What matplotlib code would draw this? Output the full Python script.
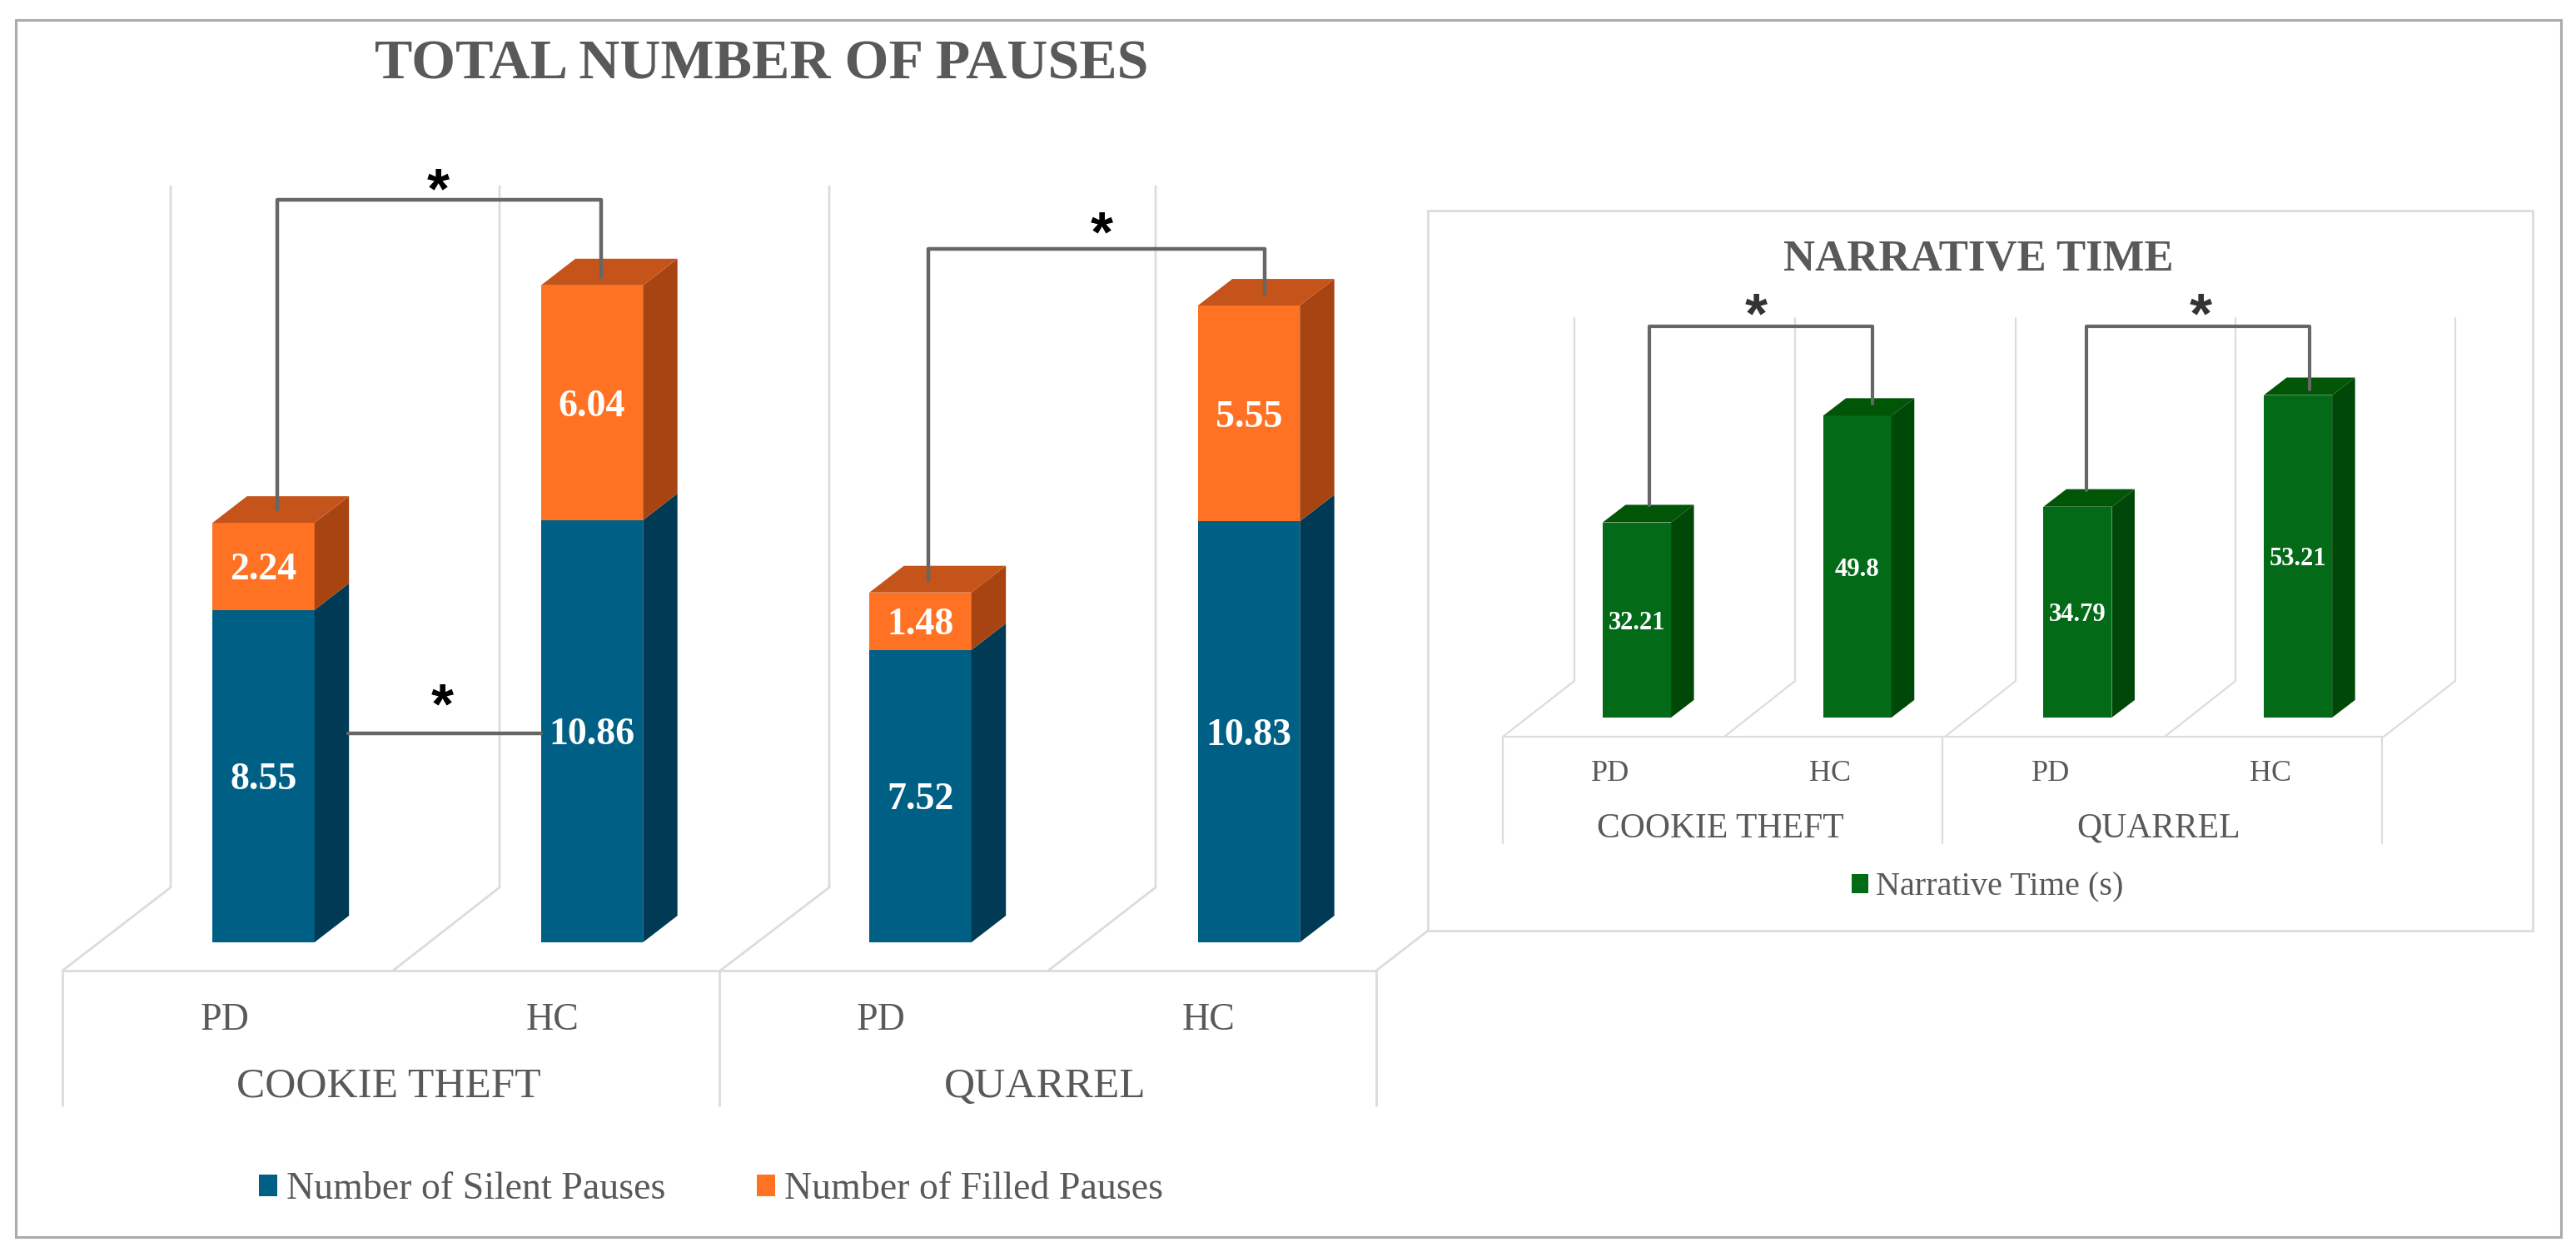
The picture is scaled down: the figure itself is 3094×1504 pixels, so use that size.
import matplotlib
matplotlib.use("Agg")
import matplotlib.pyplot as plt
from matplotlib.patches import Rectangle

W, H = 3094, 1504
plt.rcParams['font.family'] = ['Liberation Serif', 'DejaVu Serif']

groups = ["PD", "HC", "PD", "HC"]
stories = ["COOKIE THEFT", "QUARREL"]

silent = [8.55, 10.86, 7.52, 10.83]
filled = [2.24, 6.04, 1.48, 5.55]
narrative = [32.21, 49.8, 34.79, 53.21]

BLUE, BLUE_SIDE = "#005F85", "#003A54"
ORANGE, ORANGE_SIDE, ORANGE_TOP = "#FF7224", "#A84412", "#C5541A"
GREEN, GREEN_SIDE, GREEN_TOP = "#036A17", "#004808", "#015507"
GRID = "#DCDCDC"
TEXT = "#595959"
BRACKET = "#666666"

fig = plt.figure(figsize=(W / 100, H / 100), dpi=100, facecolor="white")

# pixel axes for the frames, walls and floors
back = fig.add_axes([0, 0, 1, 1], zorder=0)
back.set_xlim(0, W)
back.set_ylim(H, 0)
back.axis("off")

# second pixel axes on top, for the significance brackets
front = fig.add_axes([0, 0, 1, 1], zorder=5)
front.set_xlim(0, W)
front.set_ylim(H, 0)
front.axis("off")
front.patch.set_alpha(0)


def panel(x0, dx, y0, dy, x_px, top_px):
    # axes where bar i is centred at x0 + i*dx px and value 0 sits at y0 px
    l, r = x_px
    ax = fig.add_axes([l / W, 1 - y0 / H, (r - l) / W, (y0 - top_px) / H], zorder=2)
    ax.set_xlim((l - x0) / dx, (r - x0) / dx)
    ax.set_ylim(0, (y0 - top_px) / dy)
    ax.axis("off")
    return ax


def box_3d(ax, x, bottom, height, width, ddx, ddy, side, top=None):
    xr = x + width / 2
    xl = x - width / 2
    y0, y1 = bottom, bottom + height
    ax.fill([xr, xr + ddx, xr + ddx, xr], [y0, y0 + ddy, y1 + ddy, y1], color=side, lw=0)
    if top:
        ax.fill([xl, xr, xr + ddx, xl + ddx], [y1, y1, y1 + ddy, y1 + ddy], color=top, lw=0)


def line(a, xs, ys, color=GRID, lw=2.0):
    a.plot(xs, ys, color=color, lw=lw, solid_capstyle="round", solid_joinstyle="round")


# outer frame and inset frame
back.add_patch(Rectangle((19, 24), 3057, 1462, fill=False, ec="#ABABAB", lw=2.2))
back.add_patch(Rectangle((1715, 253), 1327, 865, fill=False, ec=GRID, lw=2.0))

# left chart: walls and floor
for top_x, floor_x in zip([205, 600, 996, 1388], [75, 472, 865, 1259]):
    line(back, [top_x, top_x, floor_x], [224, 1066, 1166])
line(back, [1715, 1653], [1118, 1166])
line(back, [75, 1653], [1166, 1166])
for x in [75, 864, 1653]:
    line(back, [x, x], [1166, 1328])

# inset chart: walls and floor
for top_x, floor_x in zip([1891, 2156, 2421, 2685, 2949], [1805, 2071, 2336, 2600, 2863]):
    line(back, [top_x, top_x, floor_x], [382, 818, 885], lw=1.6)
line(back, [1805, 2861], [885, 885], lw=1.6)
for x in [1805, 2333, 2861]:
    line(back, [x, x], [885, 1013], lw=1.6)

# left chart bars
ax = panel(316.5, 394.5, 1132, 46.7, (60, 1660), 224)
xs = list(range(len(groups)))
bw, ddx, ddy = 0.3105, 0.105, 0.685
b1 = ax.bar(xs, silent, bw, color=BLUE, label="Number of Silent Pauses")
b2 = ax.bar(xs, filled, bw, bottom=silent, color=ORANGE, label="Number of Filled Pauses")
for i in xs:
    box_3d(ax, i, 0, silent[i], bw, ddx, ddy, BLUE_SIDE)
    box_3d(ax, i, silent[i], filled[i], bw, ddx, ddy, ORANGE_SIDE, ORANGE_TOP)
    ax.text(i, silent[i] / 2, "%.2f" % silent[i], color="white", fontsize=33,
            fontweight="bold", ha="center", va="center_baseline")
    ax.text(i, silent[i] + filled[i] / 2, "%.2f" % filled[i], color="white", fontsize=33,
            fontweight="bold", ha="center", va="center_baseline")
    back.text(270 + 394 * i, 1221, groups[i], color=TEXT, fontsize=33, ha="center",
              va="center_baseline")
for x, s in zip([467, 1255], stories):
    back.text(x, 1300, s, color=TEXT, fontsize=37, ha="center", va="center_baseline")

back.text(915, 71, "TOTAL NUMBER OF PAUSES", color=TEXT, fontsize=49, fontweight="bold",
          ha="center", va="center_baseline")
leg = ax.legend(handles=[b1, b2], loc="center left", ncol=2, frameon=False, fontsize=33,
                bbox_to_anchor=(311 / W, 1 - 1429 / H), bbox_transform=fig.transFigure,
                borderaxespad=0, borderpad=0, handlelength=0.48, handleheight=0.5,
                handletextpad=0.24, columnspacing=2.4, labelcolor=TEXT)

# inset bars
ax2 = panel(1966, 264.7, 862, 7.28, (1800, 2870), 382)
bw2, ddx2, ddy2 = 0.31, 0.104, 2.9
b3 = ax2.bar(xs, narrative, bw2, color=GREEN, label="Narrative Time (s)")
for i in xs:
    box_3d(ax2, i, 0, narrative[i], bw2, ddx2, ddy2, GREEN_SIDE, GREEN_TOP)
    ax2.text(i, narrative[i] / 2, str(narrative[i]), color="white", fontsize=22,
             fontweight="bold", ha="center", va="center_baseline")
    back.text(1934 + 264.5 * i, 925, groups[i], color=TEXT, fontsize=26, ha="center",
              va="center_baseline")
for x, s in zip([2066, 2593], stories):
    back.text(x, 991, s, color=TEXT, fontsize=30, ha="center", va="center_baseline")

back.text(2376, 306, "NARRATIVE TIME", color=TEXT, fontsize=38, fontweight="bold",
          ha="center", va="center_baseline")
ax2.legend(handles=[b3], loc="center left", frameon=False, fontsize=29,
           bbox_to_anchor=(2224 / W, 1 - 1066 / H), bbox_transform=fig.transFigure,
           borderaxespad=0, borderpad=0, handlelength=0.5, handleheight=0.5,
           handletextpad=0.22, labelcolor=TEXT)

# significance brackets
line(front, [333, 333, 722, 722], [612, 240, 240, 333], BRACKET, 3.2)
line(front, [1115, 1115, 1519, 1519], [697, 299, 299, 353], BRACKET, 3.2)
line(front, [418, 650], [881, 881], BRACKET, 3.2)
line(front, [1981, 1981, 2249, 2249], [607, 392, 392, 485], BRACKET, 3.0)
line(front, [2506, 2506, 2774, 2774], [589, 392, 392, 468], BRACKET, 3.0)

for x, y, c in [(526, 231, "black"), (1323, 283, "black"), (531, 850, "black"),
                (2109, 381, "#333333"), (2643, 381, "#333333")]:
    front.text(x, y, "*", color=c, fontsize=50, fontweight="bold", ha="center", va="center",
               family="Liberation Sans")

fig.savefig("out.png", dpi=100)
